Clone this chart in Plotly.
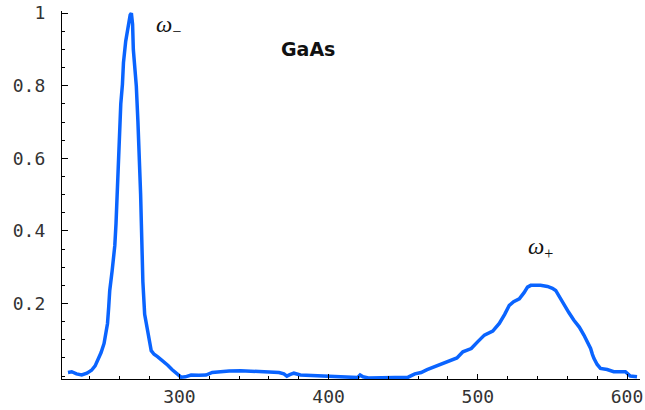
import plotly.graph_objects as go

wavenumber = [225.3, 227.8, 231, 234.5, 238, 241.1, 243.5, 245.5, 247.5, 249.5, 250.8, 251.8,
              252.6, 253.3, 254.9, 256.7, 257.5, 258.2, 258.7, 259.3, 260.1, 260.7, 261.8, 262.5,
              264, 266, 267, 267.8, 268.6, 269.1, 270, 271.1, 272.2, 273.3, 274, 274.5, 274.9,
              275.5, 276.7, 278, 278.9, 281.1, 283, 285.5, 289, 292.2, 295, 297.8, 301.1, 304,
              307.8, 313, 317.8, 322, 327, 333.3, 341, 348.7, 358, 366.7, 370, 372, 374, 376.7,
              381.1, 392, 404.5, 412, 417.8, 419.5, 421.1, 423, 426.7, 437, 448.7, 453.3, 457.8,
              462, 466, 471.1, 477.8, 482.2, 486, 490, 495.6, 500, 504.4, 510, 514.4, 518, 521.1,
              524, 527.8, 531, 533.3, 535.5, 537.8, 542, 546.7, 550, 552.2, 555, 557.8, 561,
              564.4, 568, 571.1, 574, 575.6, 576.8, 577.8, 580, 582.2, 586.7, 591.1, 595, 598.9,
              602.2, 606.7]
intensity = [0.010, 0.012, 0.006, 0.003, 0.008, 0.016, 0.028, 0.044, 0.065, 0.090, 0.120, 0.145,
             0.190, 0.236, 0.290, 0.360, 0.420, 0.500, 0.560, 0.640, 0.700, 0.750, 0.804, 0.864,
             0.923, 0.975, 0.995, 1.000, 0.970, 0.900, 0.860, 0.800, 0.700, 0.600, 0.500, 0.420, 0.330,
             0.260, 0.170, 0.135, 0.120, 0.070, 0.060, 0.053, 0.042, 0.030, 0.018, 0.008, -0.003, -0.002,
             0.003, 0.002, 0.003, 0.010, 0.012, 0.014, 0.015, 0.014, 0.012, 0.010, 0.006, 0.000, 0.004, 0.008,
             0.003, 0.001, 0.000, -0.001, -0.003, -0.004, 0.003, -0.002, -0.005, -0.005, -0.005, -0.003, 0.006,
             0.010, 0.018, 0.026, 0.035, 0.042, 0.050, 0.067, 0.076, 0.095, 0.113, 0.124, 0.145, 0.170, 0.195,
             0.205, 0.213, 0.230, 0.245, 0.250, 0.250, 0.250, 0.247, 0.242, 0.236, 0.215, 0.195, 0.175,
             0.154, 0.135, 0.113, 0.090, 0.076, 0.060, 0.049, 0.032, 0.021, 0.018, 0.012, 0.012, 0.012,
             0.000, -0.002]

x_ticks = [300, 400, 500, 600]
y_ticks = [0.2, 0.4, 0.6, 0.8, 1]
y_tick_labels = ["0.2", "0.4", "0.6", "0.8", "1"]

fig = go.Figure()
fig.add_trace(go.Scatter(x=wavenumber, y=intensity, mode="lines",
                         line=dict(color="#0a64ff", width=3.5), showlegend=False,
                         hoverinfo="skip"))

fig.add_annotation(x=283, y=0.965, text="<i>ω</i><sub>−</sub>", showarrow=False,
                   xanchor="left", yanchor="middle",
                   font=dict(family="Liberation Serif", size=23, color="#111"))
fig.add_annotation(x=532, y=0.352, text="<i>ω</i><sub>+</sub>", showarrow=False,
                   xanchor="left", yanchor="middle",
                   font=dict(family="Liberation Serif", size=23, color="#111"))
fig.add_annotation(x=386, y=0.90, text="<b>GaAs</b>", showarrow=False,
                   xanchor="center", yanchor="middle",
                   font=dict(family="DejaVu Sans", size=19, color="#111"))

tickfont = dict(family="DejaVu Sans Mono", size=18, color="#333")

fig.update_layout(
    width=645, height=410,
    margin=dict(l=62, r=2, t=10, b=31),
    paper_bgcolor="white", plot_bgcolor="white",
    xaxis=dict(range=[221.3, 608.7], tickvals=x_ticks, ticktext=[str(v) for v in x_ticks],
               ticks="inside", ticklen=5, tickwidth=1, tickcolor="black",
               showline=True, linecolor="black", linewidth=1.2,
               showgrid=False, zeroline=False, tickfont=tickfont,
               ticklabeloverflow="allow",
               minor=dict(dtick=20, tick0=0, ticks="inside", ticklen=3, tickcolor="black",
                          showgrid=False),
               ticklabelstandoff=1),
    yaxis=dict(range=[-0.008, 1.006], tickvals=y_ticks, ticktext=y_tick_labels,
               ticks="inside", ticklen=6, tickwidth=1, tickcolor="black",
               showline=True, linecolor="black", linewidth=1.2,
               showgrid=False, zeroline=False, tickfont=tickfont,
               ticklabeloverflow="allow",
               minor=dict(dtick=0.05, tick0=0, ticks="inside", ticklen=3, tickcolor="black",
                          showgrid=False),
               ticklabelstandoff=12),
)

fig.write_html("out.html", config={"displayModeBar": False},
               post_script="document.body.style.margin='0';")
